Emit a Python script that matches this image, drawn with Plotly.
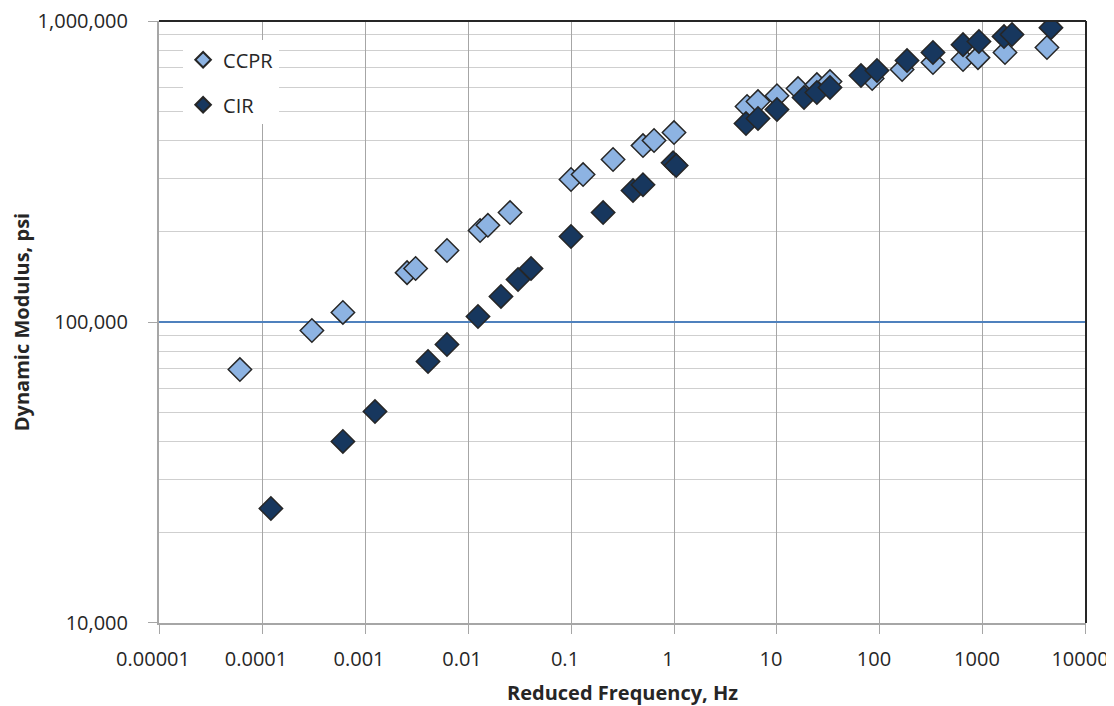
import plotly.graph_objects as go

# ---- data ----
ccpr_freq = [6.1e-5, 3.05e-4, 6.1e-4, 2.56e-3, 3.1e-3, 6.25e-3, 1.31e-2, 1.56e-2, 2.56e-2,
             0.1, 0.131, 0.256, 0.5, 0.64, 1.0,
             5.12, 6.54, 10.0, 16.0, 24.4, 32.7, 84, 164, 327, 640, 894, 1636, 4180]
ccpr_mod = [69500, 93700, 107600, 145900, 150600, 172800, 201400, 209500, 231000,
            297500, 309000, 346600, 385600, 400900, 426000,
            520000, 540000, 565000, 596500, 615000, 629500, 644000, 690000, 728000,
            745000, 756000, 786000, 817000]

cir_freq = [1.22e-4, 6.1e-4, 1.25e-3, 4.09e-3, 6.25e-3, 1.25e-2, 2.09e-2, 3.06e-2, 4.09e-2,
            0.1, 0.205, 0.4, 0.5, 0.98, 1.05,
            5.0, 6.54, 10.0, 18.3, 24.4, 32.7, 65.4, 93.5, 183, 327, 640, 914, 1600, 1914, 4570]
cir_mod = [24000, 40100, 50400, 73900, 84200, 104300, 121600, 138400, 150600,
           192300, 231000, 273500, 286000, 338000, 331000,
           456500, 474500, 508000, 557000, 578500, 601500, 659000, 685000, 739000,
           786000, 835000, 855000, 888000, 902000, 951000]

x_tickvals = [1e-5, 1e-4, 1e-3, 1e-2, 1e-1, 1, 10, 100, 1000, 10000]
x_ticktext = ["0.00001", "0.0001", "0.001", "0.01", "0.1", "1", "10", "100", "1000", "10000"]
y_tickvals = [10000, 100000, 1000000]
y_ticktext = ["10,000", "100,000", "1,000,000"]
y_minor = [m * 10 ** e for e in (4, 5) for m in range(2, 10)]

FONT = "Open Sans"
TXT = "#262626"

fig = go.Figure()
fig.add_trace(go.Scatter(
    x=ccpr_freq, y=ccpr_mod, mode="markers", name="CCPR", legendgroup="a",
    marker=dict(symbol="diamond", size=18, color="#8db3e2",
                line=dict(color="#262626", width=1.5)),
))
fig.add_trace(go.Scatter(
    x=cir_freq, y=cir_mod, mode="markers", name="CIR", legendgroup="b",
    marker=dict(symbol="diamond", size=18, color="#17375e",
                line=dict(color="#262626", width=1.5)),
))

fig.update_layout(
    width=1106, height=698,
    margin=dict(l=151, r=28, t=13, b=83),
    plot_bgcolor="white", paper_bgcolor="white",
    font=dict(family=FONT, size=20, color=TXT),
    showlegend=True,
    legend=dict(x=0.026, y=0.968, xanchor="left", yanchor="top",
                bgcolor="white", borderwidth=0, font=dict(size=20, color=TXT),
                tracegroupgap=16, itemsizing="constant"),
    xaxis=dict(
        type="log", range=[-5.0002, 4.0002], automargin=False,
        tickvals=x_tickvals, ticktext=x_ticktext, ticklabeloverflow="allow",
        ticklabelshift=-6,
        showgrid=True, gridcolor="#a6a6a6", gridwidth=1.3,
        showline=True, linecolor="#a6a6a6", linewidth=2,
        ticks="outside", ticklen=9, tickcolor="#a6a6a6", tickwidth=1.3,
        ticklabelstandoff=8,
        tickfont=dict(size=20, color=TXT),
        title=dict(text="<b>Reduced Frequency, Hz</b>", font=dict(size=20, color=TXT), standoff=20),
        zeroline=False,
    ),
    yaxis=dict(
        type="log", range=[3.9998, 6.0002], automargin=False,
        tickvals=y_tickvals, ticktext=y_ticktext, ticklabeloverflow="allow",
        showgrid=True, gridcolor="#4f81bd", gridwidth=1.5,
        showline=True, linecolor="#a6a6a6", linewidth=2,
        ticks="outside", ticklen=9, tickcolor="#a6a6a6", tickwidth=1.3,
        ticklabelstandoff=16,
        tickfont=dict(size=20, color=TXT),
        minor=dict(tickvals=y_minor, showgrid=True, gridcolor="#cfcfcf", gridwidth=1.3, ticks=""),
        title=dict(text="<b>Dynamic Modulus, psi</b>", font=dict(size=20, color=TXT), standoff=10),
        zeroline=False,
    ),
)

# dark top/right border of the plot area
fig.add_shape(type="line", xref="paper", yref="paper", x0=0, x1=1, y0=1, y1=1,
              line=dict(color="#262626", width=2))
fig.add_shape(type="line", xref="paper", yref="paper", x0=1, x1=1, y0=0, y1=1,
              line=dict(color="#262626", width=2))

fig.write_html("out.html")
